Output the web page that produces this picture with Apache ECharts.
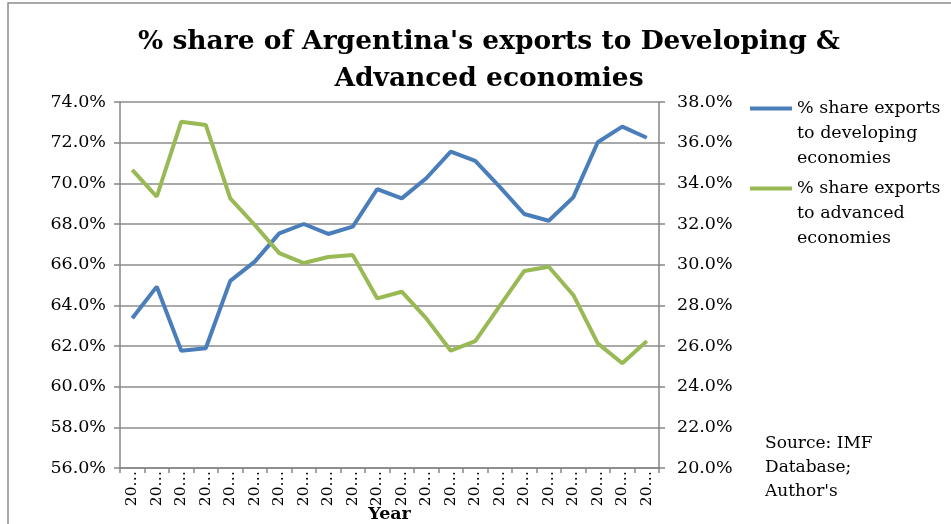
<!DOCTYPE html>
<html>
<head>
<meta charset="utf-8">
<script src="https://cdn.jsdelivr.net/npm/echarts@6/dist/echarts.min.js"></script>
<style>
  html, body { margin: 0; padding: 0; background: #ffffff; }
  #chart { width: 951px; height: 524px; }
</style>
</head>
<body>
<div id="chart"></div>
<script>
// Year tick labels as they appear on the category axis (clipped text)
const yearLabels = [
  '20…', '20…', '20…', '20…', '20…', '20…', '20…', '20…', '20…', '20…', '20…',
  '20…', '20…', '20…', '20…', '20…', '20…', '20…', '20…', '20…', '20…', '20…'
];

// Share of exports (%) going to developing economies — left axis
const developingShare = [
  63.36, 64.92, 61.77, 61.89, 65.20, 66.15, 67.54, 68.00, 67.51, 67.87, 69.72,
  69.26, 70.25, 71.56, 71.10, 69.83, 68.49, 68.16, 69.31, 72.02, 72.79, 72.24
];

// Share of exports (%) going to advanced economies — right axis
const advancedShare = [
  34.66, 33.34, 37.03, 36.87, 33.26, 31.95, 30.57, 30.08, 30.38, 30.47, 28.34,
  28.67, 27.36, 25.77, 26.24, 27.97, 29.69, 29.90, 28.51, 26.13, 25.15, 26.24
];

const seriesNames = [
  '% share exports\nto developing\neconomies',
  '% share exports\nto advanced\neconomies'
];

const FONT = 'DejaVu Serif';
const AXIS_GRAY = '#868686';
const pct = v => v.toFixed(1) + '%';

const chart = echarts.init(document.getElementById('chart'), null, { renderer: 'canvas' });

chart.setOption({
  backgroundColor: '#ffffff',
  animation: false,
  title: {
    text: "% share of Argentina's exports to Developing &\nAdvanced economies",
    left: 489,
    top: 24,
    textAlign: 'center',
    padding: 0,
    textStyle: {
      fontFamily: FONT,
      fontWeight: 'bold',
      fontSize: 26.5,
      lineHeight: 37,
      color: '#000000'
    }
  },
  legend: {
    orient: 'vertical',
    left: 750,
    top: 46,
    padding: 0,
    itemGap: -45,
    itemWidth: 42,
    itemHeight: 4,
    icon: 'rect',
    data: seriesNames,
    // two blank leading lines keep the icon level with the first text line
    formatter: name => '\n\n' + name,
    textStyle: {
      fontFamily: FONT,
      fontSize: 17.5,
      lineHeight: 25,
      color: '#000000'
    }
  },
  grid: {
    left: 120,
    right: 292,
    top: 102,
    bottom: 56,
    containLabel: false,
    outerBoundsMode: 'none'
  },
  xAxis: {
    type: 'category',
    data: yearLabels,
    boundaryGap: true,
    name: 'Year',
    nameLocation: 'middle',
    nameGap: 37,
    nameMoveOverlap: false,
    nameTextStyle: {
      fontFamily: FONT,
      fontWeight: 'bold',
      fontSize: 17.5,
      color: '#000000'
    },
    axisLine: { lineStyle: { color: AXIS_GRAY, width: 1.5 } },
    axisTick: { show: true, length: 5, interval: 0, lineStyle: { color: AXIS_GRAY, width: 1.5 } },
    axisLabel: {
      interval: 0,
      rotate: 90,
      margin: 3,
      fontFamily: FONT,
      fontSize: 15.5,
      color: '#000000'
    },
    splitLine: { show: false }
  },
  yAxis: [
    {
      type: 'value',
      min: 56,
      max: 74,
      interval: 2,
      position: 'left',
      axisLine: { show: true, lineStyle: { color: AXIS_GRAY, width: 1.5 } },
      axisTick: { show: true, length: 6, lineStyle: { color: AXIS_GRAY, width: 1.5 } },
      axisLabel: {
        formatter: pct,
        margin: 14,
        fontFamily: FONT,
        fontSize: 17.5,
        color: '#000000'
      },
      splitLine: { show: true, lineStyle: { color: '#8c8c8c', width: 1.5 } }
    },
    {
      type: 'value',
      min: 20,
      max: 38,
      interval: 2,
      position: 'right',
      axisLine: { show: true, lineStyle: { color: AXIS_GRAY, width: 1.5 } },
      axisTick: { show: true, length: 6, lineStyle: { color: AXIS_GRAY, width: 1.5 } },
      axisLabel: {
        formatter: pct,
        margin: 18,
        fontFamily: FONT,
        fontSize: 17.5,
        color: '#000000'
      },
      splitLine: { show: false }
    }
  ],
  series: [
    {
      name: seriesNames[0],
      type: 'line',
      yAxisIndex: 0,
      data: developingShare,
      showSymbol: false,
      symbol: 'none',
      lineStyle: { color: '#4a7ebb', width: 4 },
      itemStyle: { color: '#4a7ebb' },
      z: 3
    },
    {
      name: seriesNames[1],
      type: 'line',
      yAxisIndex: 1,
      data: advancedShare,
      showSymbol: false,
      symbol: 'none',
      lineStyle: { color: '#98b954', width: 4 },
      itemStyle: { color: '#98b954' },
      z: 3
    }
  ],
  graphic: [
    {
      type: 'rect',
      shape: { x: 8, y: 3, width: 1000, height: 600 },
      style: { fill: null, stroke: '#8c8c8c', lineWidth: 1.5 },
      silent: true,
      z: -1
    },
    {
      type: 'text',
      left: 765,
      top: 432,
      style: {
        text: "Source: IMF\nDatabase;\nAuthor's",
        fontFamily: FONT,
        fontSize: 17,
        lineHeight: 24,
        fill: '#000000'
      }
    }
  ]
});
</script>
</body>
</html>
